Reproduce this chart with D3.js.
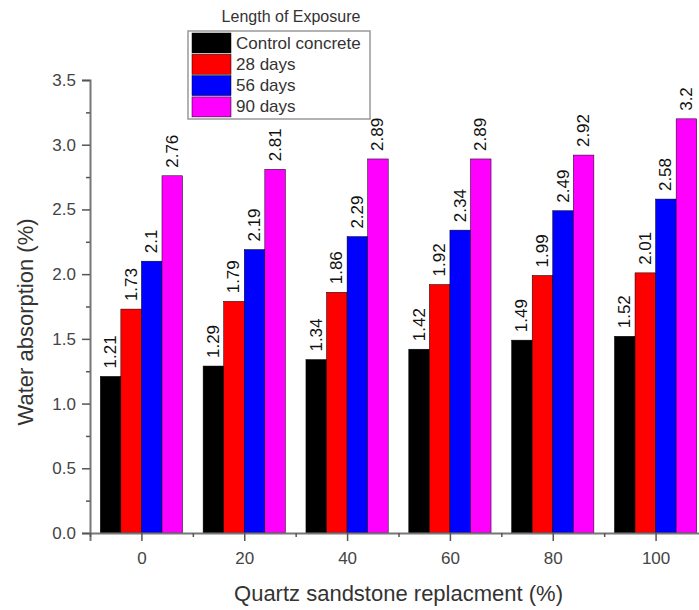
<!DOCTYPE html>
<html>
<head>
<meta charset="utf-8">
<script src="https://cdn.jsdelivr.net/npm/d3@7"></script>
<style>
  html, body { margin: 0; padding: 0; background: #fff; }
  svg { display: block; font-family: "Liberation Sans", Arial, sans-serif; }
</style>
</head>
<body>
<div id="chart"></div>
<script>
const categories = [0, 20, 40, 60, 80, 100];
const seriesNames = ["Control concrete", "28 days", "56 days", "90 days"];
const seriesColors = ["#000000", "#ff0000", "#0000ff", "#ff00ff"];
const control = [1.21, 1.29, 1.34, 1.42, 1.49, 1.52];
const days28 = [1.73, 1.79, 1.86, 1.92, 1.99, 2.01];
const days56 = [2.1, 2.19, 2.29, 2.34, 2.49, 2.58];
const days90 = [2.76, 2.81, 2.89, 2.89, 2.92, 3.2];
const series = [control, days28, days56, days90];
const yTicks = [0, 0.5, 1.0, 1.5, 2.0, 2.5, 3.0, 3.5];
const xTicks = [0, 20, 40, 60, 80, 100];
const legendTitle = "Length of Exposure";
const xTitle = "Quartz sandstone replacment (%)";
const yTitle = "Water absorption (%)";

const W = 699, H = 610;
const svg = d3.select("#chart").append("svg").attr("width", W).attr("height", H);
svg.append("rect").attr("width", W).attr("height", H).attr("fill", "#fff");

const x = d3.scaleLinear().domain([-10, 110]).range([90, 707]);
const y = d3.scaleLinear().domain([0, 3.5]).range([533, 80]);
const barW = x(4) - x(0);

// bars
series.forEach((vals, si) => {
  const g = svg.append("g");
  g.selectAll("rect").data(categories).enter().append("rect")
    .attr("x", (c) => x(c - 8 + 4 * si))
    .attr("y", (c, i) => y(vals[i]))
    .attr("width", barW)
    .attr("height", (c, i) => y(0) - y(vals[i]))
    .attr("fill", seriesColors[si])
    .attr("stroke", "#000")
    .attr("stroke-width", 0.5);
  g.selectAll("text").data(categories).enter().append("text")
    .attr("transform", (c, i) => `translate(${x(c - 6 + 4 * si)},${y(vals[i]) - 8}) rotate(-90)`)
    .attr("text-anchor", "start")
    .attr("dominant-baseline", "central")
    .attr("font-size", 17)
    .attr("fill", "#111")
    .text((c, i) => String(vals[i]));
});

// y axis
const yAxis = svg.append("g").attr("transform", `translate(${x(-10)},0)`)
  .call(d3.axisLeft(y).tickValues(yTicks).tickFormat(d3.format(".1f")).tickSize(8).tickPadding(6));
const yMinor = svg.append("g").attr("transform", `translate(${x(-10)},0)`)
  .call(d3.axisLeft(y).tickValues(d3.range(0.25, 3.5, 0.5)).tickFormat("").tickSize(4));
// x axis
const xAxis = svg.append("g").attr("transform", `translate(0,${y(0)})`)
  .call(d3.axisBottom(x).tickValues(xTicks).tickSize(8).tickPadding(11));
const xMinor = svg.append("g").attr("transform", `translate(0,${y(0)})`)
  .call(d3.axisBottom(x).tickValues(d3.range(-10, 111, 20)).tickFormat("").tickSize(4));

[yAxis, yMinor, xAxis, xMinor].forEach(a => {
  a.select(".domain").attr("stroke", "#777").attr("stroke-width", 2);
  a.selectAll(".tick line").attr("stroke", "#555").attr("stroke-width", 1.5);
  a.selectAll(".tick text").attr("font-size", 17).attr("fill", "#444")
    .attr("font-family", "'Liberation Sans', Arial, sans-serif");
});
yMinor.select(".domain").remove();
xMinor.select(".domain").remove();

// axis titles
svg.append("text")
  .attr("transform", `translate(25,322) rotate(-90)`)
  .attr("text-anchor", "middle").attr("dominant-baseline", "central")
  .attr("font-size", 22).attr("fill", "#333").text(yTitle);
svg.append("text")
  .attr("x", (x(-10) + x(110)) / 2).attr("y", 593)
  .attr("text-anchor", "middle").attr("dominant-baseline", "central")
  .attr("font-size", 22).attr("fill", "#333").text(xTitle);

// legend
const lg = svg.append("g");
lg.append("text").attr("x", 291).attr("y", 16)
  .attr("text-anchor", "middle").attr("dominant-baseline", "central")
  .attr("font-size", 16).attr("fill", "#333").text(legendTitle);
lg.append("rect").attr("x", 188).attr("y", 31).attr("width", 182).attr("height", 88)
  .attr("fill", "#fff").attr("stroke", "#999").attr("stroke-width", 1.5);
seriesNames.forEach((name, i) => {
  lg.append("rect").attr("x", 192).attr("y", 33 + i * 21.3).attr("width", 39).attr("height", 20)
    .attr("fill", seriesColors[i]).attr("stroke", "#000").attr("stroke-width", 0.5);
  lg.append("text").attr("x", 236).attr("y", 43 + i * 21.3)
    .attr("dominant-baseline", "central")
    .attr("font-size", 17).attr("fill", "#333").text(name);
});
</script>
</body>
</html>
